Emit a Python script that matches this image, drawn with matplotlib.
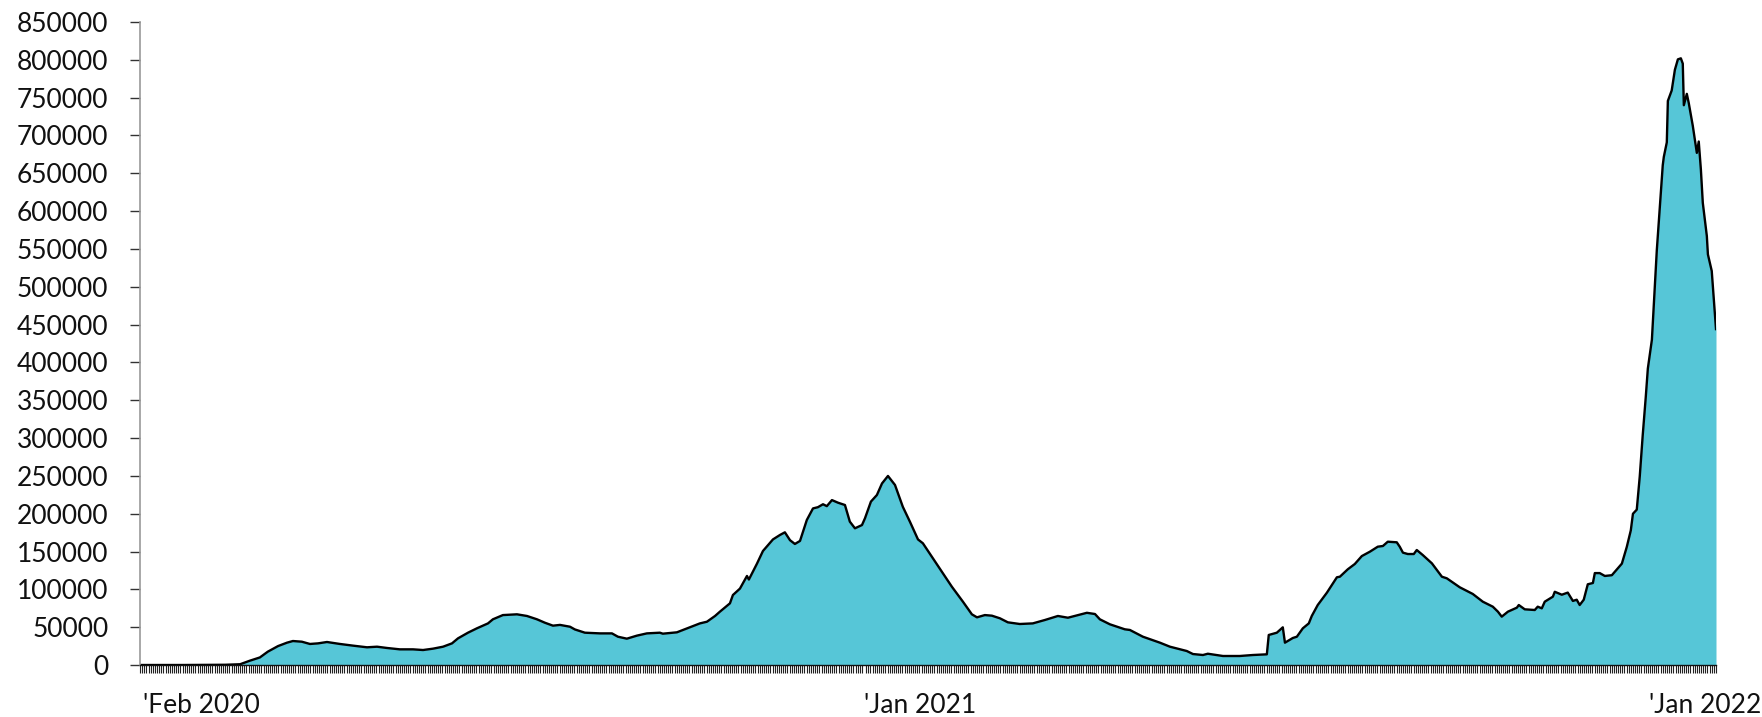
import matplotlib
matplotlib.use("Agg")
import matplotlib.pyplot as plt
import numpy as np

plt.rcParams['font.family'] = ['Lato', 'DejaVu Sans']

# days since 2020-01-22
day = [0, 20, 40, 44, 47, 51.6, 56.3, 60, 64.8, 69, 71.8, 76, 79.8, 83.6, 87.8, 93.9, 100, 106.6,
       111.3, 116, 122, 128.2, 132.9, 137.6, 142.3, 146.5, 149.3, 154, 158.2, 163.4, 165.7, 170.4,
       177, 181.7, 186.4, 190.1, 193.9, 197.2, 201.9, 204.2, 208.9, 216, 221.6, 224.4, 228.6, 233.3,
       238, 244.1, 245.5, 252.1, 258.2, 262.9, 266.2, 270, 272.3, 277, 278.4, 281.7, 285, 285.9,
       289.7, 292.5, 297.2, 300.5, 302.8, 305.2, 307.5, 309.9, 313.1, 316, 318.3, 320.7, 322.5,
       324.9, 327.7, 331, 333.3, 335.7, 339, 340.4, 343.2, 346, 348.4, 351.2, 354.5, 358.2, 361.5,
       365.3, 367.6, 372.3, 377, 381.2, 386.4, 390.6, 393, 396.7, 400, 403.8, 407.5, 413.1, 419.2,
       424.9, 431, 435.7, 440.4, 444.6, 448.4, 450.7, 455.4, 462.4, 464.8, 470.9, 478.9, 483.6,
       491.5, 494.4, 499.1, 501.4, 508.5, 516.4, 522.5, 529.1, 530, 533.8, 536.6, 537.6, 541.3,
       543.2, 546, 548.8, 550.2, 553, 557.3, 562, 563.4, 567.1, 570.4, 573.7, 577.5, 581.2, 583.6,
       585.9, 590.1, 591.5, 593, 595.3, 598.1, 599.5, 602.3, 606.6, 611.3, 613.6, 619.7, 625.8,
       630.5, 635.2, 637.6, 639.4, 642.3, 646.5, 647.4, 650.2, 654.9, 656.3, 658.2, 659.6, 663.4,
       664.3, 667.6, 670.4, 672.8, 674.6, 676, 677.9, 679.8, 682.2, 683.1, 685.4, 687.8, 691.1,
       695.8, 698.1, 700, 701, 702.8, 704.2, 705.6, 707, 708, 709.9, 711.3, 712.2, 713.1, 715,
       715.5, 716.9, 717.4, 719.2, 720.7, 722.1, 723.5, 724.4, 724.9, 726.3, 727.2, 729.1, 731,
       731.9, 732.9, 733.8, 735.7, 736.2, 738, 738.5, 740]
cases = [0, 0, 300, 700, 1000, 5700, 10000, 17600, 25000, 29500, 31700, 30800, 27800, 28600, 30400,
         27800, 25600, 23400, 24200, 22500, 20700, 20700, 19800, 21600, 24200, 28600, 35200, 42700,
         48500, 55000, 60400, 66000, 67000, 64800, 60400, 55900, 52000, 53000, 50600, 47000, 42700,
         41800, 41800, 37400, 34800, 38800, 41800, 42700, 41400, 43200, 49800, 55000, 57200, 64800,
         70500, 81500, 92500, 101000, 117700, 113000, 134000, 150700, 166000, 171900, 175400,
         165000, 160000, 164000, 191700, 207000, 208600, 212500, 210000, 218000, 214600, 211500,
         189500, 180700, 185000, 193900, 216000, 224700, 240000, 249900, 238000, 209000, 189500,
         166000, 160900, 141000, 121000, 103500, 83700, 67000, 63000, 66000, 65200, 61700, 56400,
         54200, 55000, 59500, 64800, 62500, 66000, 69000, 67400, 60400, 53800, 47200, 46300, 37400,
         29500, 24200, 18500, 14500, 13200, 14900, 11900, 11900, 13200, 14100, 39700, 42700, 49800,
         29500, 35700, 37400, 48500, 55000, 64800, 79300, 95600, 116000, 116700, 126500, 133500,
         144000, 149800, 156400, 157300, 163000, 162200, 156400, 148500, 146700, 146700, 152000,
         145400, 134400, 116700, 114600, 102700, 93900, 83700, 77100, 70500, 63900, 70500, 75800,
         79300, 73600, 72700, 77100, 74900, 83700, 90300, 96800, 92900, 95700, 84700, 86300, 79300,
         86300, 106700, 108400, 121500, 121500, 117700, 118700, 134000, 156000, 178000, 199900,
         205400, 249300, 304000, 353500, 392000, 430000, 501600, 548000, 584000, 660700, 671700,
         690900, 745700, 759500, 786900, 800600, 802000, 795000, 740000, 755000, 743000, 712800,
         677000, 692000, 655000, 611000, 567000, 542800, 520900, 501600, 444000]

tick_days = [1.5, 340, 708.5]
tick_labels = ["'Feb 2020", "'Jan 2021", "'Jan 2022"]
y_ticks = list(range(0, 850001, 50000))

fig = plt.figure(figsize=(17.62, 7.17), dpi=100)
ax = fig.add_axes([140/1762, 1 - 665/717, (1716 - 140)/1762, (665 - 22)/717])

ax.fill_between(day, cases, 0, color='#56C6D7', linewidth=0)
ax.plot(day, cases, color='black', linewidth=1.7, solid_joinstyle='round')

ax.set_xlim(0, 740)
ax.set_ylim(0, 850000)

ax.set_yticks(y_ticks)
ax.set_yticklabels([str(v) for v in y_ticks])
ax.tick_params(axis='y', length=7.2, width=1, color='#333333', pad=15.5, labelsize=19,
               labelcolor='#111111')

ax.set_xticks(tick_days)
ax.set_xticklabels(tick_labels, ha='left')
ax.set_xticks(np.arange(0, 741, 1), minor=True)
ax.tick_params(axis='x', which='major', length=0, pad=20, labelsize=19, labelcolor='#111111')
ax.tick_params(axis='x', which='minor', length=5.8, width=0.8, color='#222222')

for s in ['top', 'right']:
    ax.spines[s].set_visible(False)
ax.spines['left'].set_color('#999999')
ax.spines['left'].set_linewidth(1.2)
ax.spines['bottom'].set_color('#111111')
ax.spines['bottom'].set_linewidth(1)

fig.savefig('out.png', dpi=100)
